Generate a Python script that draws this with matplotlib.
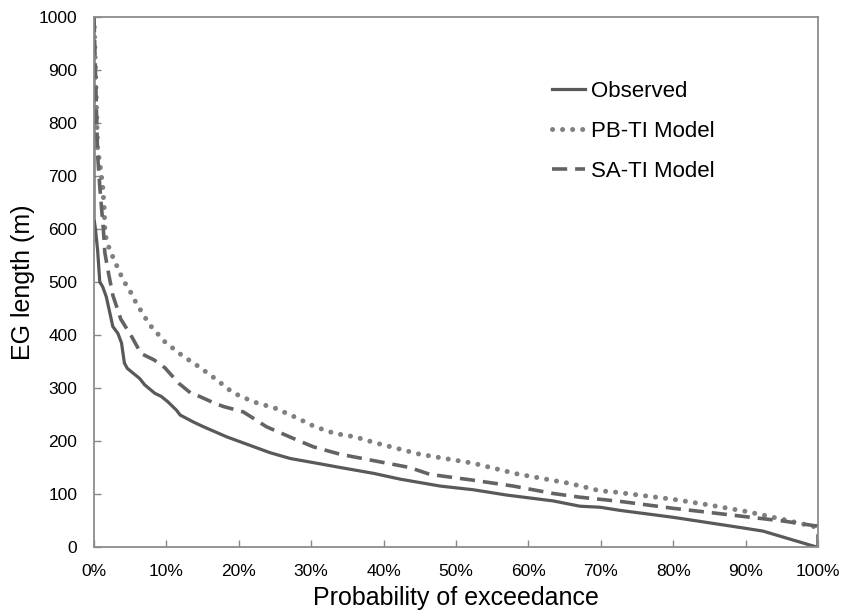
import matplotlib
matplotlib.use("Agg")
import matplotlib.pyplot as plt
from matplotlib.ticker import FuncFormatter, MultipleLocator

plt.rcParams['font.family'] = ['Liberation Sans', 'DejaVu Sans']

# Observed (probability %, length m)
obs_p = [0, 0, 0.2, 0.5, 0.8, 1.2, 1.7, 2.2, 2.6, 3.3, 3.8, 4.2, 4.6, 6.3, 7.0, 8.4, 9.3,
         10.2, 11.4, 11.9, 13.7, 15.1, 18.3, 21.1, 24.3, 27.1, 31.2, 34.0, 38.6, 42.3,
         47.8, 52.4, 57.0, 63.4, 67.1, 69.9, 72.7, 80.0, 90.1, 92.4, 99.8]
obs_v = [1000, 620, 600, 560, 500, 491, 472, 441, 416, 403, 385, 347, 337, 318, 306, 290, 284,
         274, 258, 249, 236, 227, 208, 194, 178, 167, 157, 150, 139, 128,
         115, 108, 98, 87, 77, 75, 69, 56, 35, 30, 0]

# PB-TI model
pb_p = [0, 0.3, 0.5, 0.8, 1.2, 1.4, 1.5, 1.7, 2.2, 2.8, 3.4, 4.0, 4.9, 5.6, 7.0, 7.9, 9.8,
        12.1, 14.5, 16.8, 19.2, 22.0, 25.0, 27.8, 30.5, 33.3, 36.0, 39.0, 45.0, 52.4,
        58.4, 65.7, 69.9, 71.7, 80.0, 85.1, 90.1, 95.2, 99.6]
pb_v = [1000, 850, 750, 725, 680, 640, 600, 579, 560, 541, 523, 504, 485, 466, 434, 416, 387,
        362, 340, 317, 291, 274, 262, 245, 227, 214, 208, 196, 175, 158,
        138, 120, 106, 104, 90, 79, 67, 52, 38]

# SA-TI model
sa_p = [0, 0.5, 0.8, 1.1, 1.3, 1.5, 2.0, 2.6, 3.7, 5.2, 6.5, 8.3, 9.8, 11.7, 13.4, 14.6,
        16.7, 17.9, 20.6, 22.0, 23.8, 27.5, 30.3, 34.0, 38.6, 43.6, 46.4, 52.4, 57.9,
        63.4, 67.1, 69.9, 72.7, 80.0, 85.1, 90.1, 95.2, 99.6, 100, 100]
sa_v = [1000, 740, 680, 630, 598, 555, 517, 475, 430, 397, 365, 353, 338, 309, 290, 284,
        271, 265, 255, 243, 227, 205, 189, 175, 163, 150, 137, 126, 115,
        101, 94, 90, 86, 73, 65, 57, 49, 40, 40, 0]

labels = ['Observed', 'PB-TI Model', 'SA-TI Model']

fig = plt.figure(figsize=(8.41, 6.12), dpi=100)
ax = fig.add_axes([94/841, 1-547/612, (818-94)/841, (547-17)/612])

ax.plot(obs_p, obs_v, color='#595959', lw=2.3, solid_joinstyle='round', label=labels[0])
ax.plot(pb_p, pb_v, color='#808080', lw=3.6, linestyle=(0, (0.01, 2.0)),
        dash_capstyle='round', label=labels[1])
ax.plot(sa_p, sa_v, color='#636363', lw=2.6, linestyle=(0, (4.2, 2.2)), label=labels[2])

ax.set_xlim(0, 100)
ax.set_ylim(0, 1000)
ax.xaxis.set_major_locator(MultipleLocator(10))
ax.yaxis.set_major_locator(MultipleLocator(100))
ax.xaxis.set_major_formatter(FuncFormatter(lambda v, p: f'{int(round(v))}%'))
ax.tick_params(direction='in', length=5, width=1, color='#888888', labelsize=12.5,
               labelcolor='black')
ax.tick_params(axis='x', pad=12)
ax.tick_params(axis='y', pad=12)
for s in ax.spines.values():
    s.set_color('#8c8c8c')
    s.set_linewidth(1.3)

ax.set_xlabel('Probability of exceedance', fontsize=18, labelpad=5)
ax.set_ylabel('EG length (m)', fontsize=18, labelpad=3)

leg = ax.legend(loc='upper left', bbox_to_anchor=((552-94)/724, (547-81)/530),
                frameon=False, fontsize=16, handlelength=1.5, handletextpad=0.25,
                labelspacing=0.86, borderaxespad=0, borderpad=0)

fig.savefig('out.png', dpi=100)
